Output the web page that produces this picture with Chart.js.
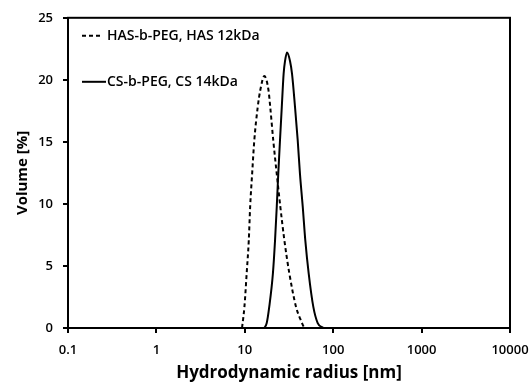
<!DOCTYPE html>
<html>
<head>
<meta charset="utf-8">
<script src="https://cdn.jsdelivr.net/npm/chart.js@4.4.0/dist/chart.umd.min.js"></script>
<style>
  html, body { margin: 0; padding: 0; background: #fff; }
  #wrap { width: 531px; height: 383px; }
</style>
</head>
<body>
<div id="wrap"><canvas id="dlsChart" width="531" height="383"></canvas></div>
<script>
// Datos (radio hidrodinámico en nm, volumen en %)
const seriesLabels = ['HAS-b-PEG, HAS 12kDa', 'CS-b-PEG, CS 14kDa'];

const hasRadius = [9.3, 9.9, 10.5, 11.1, 11.5, 12.1, 12.8, 14.0, 15.0, 16.6, 18.5, 19.4, 21.0, 23.0, 25.2, 28.0, 31.9, 38.0, 44.4, 47.1];
const hasVolume = [0, 1.7, 4.4, 7.1, 9.8, 12.4, 15.1, 17.8, 19.2, 20.3, 19.2, 17.8, 15.1, 12.4, 9.8, 7.1, 4.4, 1.7, 0.4, 0];

const csRadius = [16.6, 17.7, 18.9, 20.8, 22.0, 23.0, 23.9, 25.0, 26.2, 27.5, 28.5, 30.0, 32.5, 34.2, 37.0, 39.7, 42.1, 45.2, 48.3, 52.8, 59.6, 66.8, 77.3];
const csVolume = [0, 0.4, 1.7, 4.4, 7.1, 9.8, 12.4, 15.1, 17.8, 20.5, 21.5, 22.2, 21.5, 20.5, 17.8, 15.1, 12.4, 9.8, 7.1, 4.4, 1.7, 0.4, 0];

const xTickValues = [0.1, 1, 10, 100, 1000, 10000];
const xTickLabels = ['0.1', '1', '10', '100', '1000', '10000'];
const yTickValues = [0, 5, 10, 15, 20, 25];

const FONT = "'Open Sans', 'DejaVu Sans', sans-serif";

function toPoints(xs, ys) {
    return xs.map((x, i) => ({ x: x, y: ys[i] }));
}

// Marco completo alrededor del área del gráfico
const framePlugin = {
    id: 'frame',
    afterDraw(chart) {
        const { ctx, chartArea } = chart;
        ctx.save();
        ctx.strokeStyle = '#000';
        ctx.lineWidth = 2;
        ctx.strokeRect(chartArea.left, chartArea.top, chartArea.right - chartArea.left, chartArea.bottom - chartArea.top);
        ctx.restore();
    }
};

// Leyenda dentro del área, como en el original
const insideLegend = {
    id: 'insideLegend',
    afterDraw(chart) {
        const { ctx, chartArea } = chart;
        const rows = [
            { y: chartArea.top + 18, x0: chartArea.left + 14, x1: chartArea.left + 35 },
            { y: chartArea.top + 64, x0: chartArea.left + 14, x1: chartArea.left + 38 }
        ];
        ctx.save();
        chart.data.datasets.forEach((ds, i) => {
            const r = rows[i];
            ctx.strokeStyle = '#000';
            ctx.lineWidth = 2;
            ctx.setLineDash(ds.borderDash || []);
            ctx.beginPath();
            ctx.moveTo(r.x0, r.y);
            ctx.lineTo(r.x1, r.y);
            ctx.stroke();
            ctx.setLineDash([]);
            ctx.fillStyle = '#000';
            ctx.font = '600 14px ' + FONT;
            ctx.textBaseline = 'middle';
            ctx.textAlign = 'left';
            ctx.fillText(ds.label, chartArea.left + 39, r.y);
        });
        ctx.restore();
    }
};

document.addEventListener('DOMContentLoaded', () => {
    const ctx = document.getElementById('dlsChart').getContext('2d');
    new Chart(ctx, {
        type: 'line',
        data: {
            datasets: [
                {
                    label: seriesLabels[0],
                    data: toPoints(hasRadius, hasVolume),
                    borderColor: '#000',
                    borderWidth: 2,
                    borderDash: [4, 3],
                    pointRadius: 0,
                    cubicInterpolationMode: 'monotone',
                    fill: false
                },
                {
                    label: seriesLabels[1],
                    data: toPoints(csRadius, csVolume),
                    borderColor: '#000',
                    borderWidth: 2,
                    pointRadius: 0,
                    cubicInterpolationMode: 'monotone',
                    fill: false
                }
            ]
        },
        options: {
            responsive: false,
            animation: false,
            layout: { padding: { top: 17, right: 21, left: 0, bottom: 0 } },
            plugins: {
                legend: { display: false },
                tooltip: { enabled: false }
            },
            scales: {
                x: {
                    type: 'logarithmic',
                    min: 0.1,
                    max: 10000,
                    afterBuildTicks(scale) {
                        scale.ticks = xTickValues.map(v => ({ value: v }));
                    },
                    afterFit(scale) {
                        scale.height = 55;
                        scale.paddingLeft = 0;
                        scale.paddingRight = 0;
                    },
                    grid: { drawOnChartArea: false, drawTicks: true, tickLength: 5, color: '#000', lineWidth: 2 },
                    border: { color: '#000', width: 2 },
                    ticks: {
                        autoSkip: false,
                        maxRotation: 0,
                        padding: 9,
                        color: '#000',
                        font: { family: FONT, size: 13, weight: '600' },
                        callback: (v) => {
                            const i = xTickValues.indexOf(v);
                            return i >= 0 ? xTickLabels[i] : '';
                        }
                    },
                    title: {
                        display: true,
                        text: 'Hydrodynamic radius [nm]',
                        color: '#000',
                        font: { family: FONT, size: 17, weight: 'bold' },
                        padding: { top: 0, bottom: 0 }
                    }
                },
                y: {
                    min: 0,
                    max: 25,
                    afterBuildTicks(scale) {
                        scale.ticks = yTickValues.map(v => ({ value: v }));
                    },
                    afterFit(scale) { scale.width = 68; },
                    grid: { drawOnChartArea: false, drawTicks: true, tickLength: 5, color: '#000', lineWidth: 2 },
                    border: { color: '#000', width: 2 },
                    ticks: {
                        padding: 10,
                        color: '#000',
                        font: { family: FONT, size: 13, weight: '600' }
                    },
                    title: {
                        display: true,
                        text: 'Volume [%]',
                        color: '#000',
                        font: { family: FONT, size: 15, weight: 'bold' },
                        padding: { top: 14, bottom: 0 }
                    }
                }
            }
        },
        plugins: [framePlugin, insideLegend]
    });
});
</script>
</body>
</html>
